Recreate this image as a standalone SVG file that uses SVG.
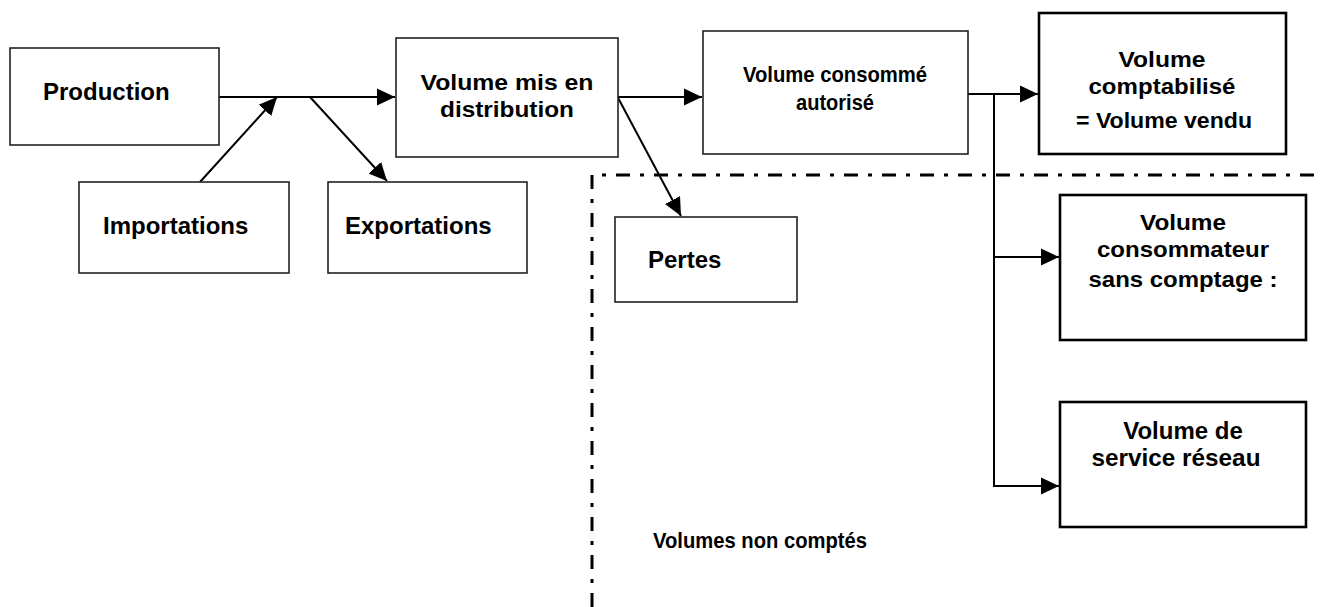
<svg xmlns="http://www.w3.org/2000/svg" width="1320" height="607" viewBox="0 0 1320 607">
<defs>
<style>
.box{fill:#fff;stroke:#222;stroke-width:1.6}
.boxb{fill:#fff;stroke:#000;stroke-width:2.6}
.t{font-family:"Liberation Sans",Arial,sans-serif;font-weight:bold;fill:#000}
.t24{font-size:24px}
.t21{font-size:22px}
.c{text-anchor:middle}
.ln{fill:none;stroke:#000;stroke-width:2}
.dd{fill:none;stroke:#000;stroke-width:3;stroke-dasharray:14 10 4 10}
</style>
<marker id="ah" markerUnits="userSpaceOnUse" markerWidth="19" markerHeight="18" refX="18" refY="9" orient="auto" viewBox="0 0 19 18">
<path d="M0,0.5 L18,9 L0,17.5 z" fill="#000"/>
</marker>
</defs>
<rect width="1320" height="607" fill="#fff"/>

<g id="boundary">
<path class="dd" d="M592,607 L592,175 L1320,175"/>
</g>

<g id="connectors">
<line class="ln" x1="219" y1="97" x2="395" y2="97" marker-end="url(#ah)"/>
<line class="ln" x1="200" y1="182" x2="277" y2="97" marker-end="url(#ah)"/>
<line class="ln" x1="310" y1="97" x2="387" y2="181" marker-end="url(#ah)"/>
<line class="ln" x1="618" y1="97" x2="702" y2="97" marker-end="url(#ah)"/>
<line class="ln" x1="616" y1="94" x2="681" y2="216" marker-end="url(#ah)"/>
<line class="ln" x1="968" y1="94" x2="1038" y2="94" marker-end="url(#ah)"/>
<path class="ln" d="M994,94 L994,486 L1059,486" marker-end="url(#ah)"/>
<line class="ln" x1="994" y1="257" x2="1059" y2="257" marker-end="url(#ah)"/>
</g>

<g id="production">
<rect class="box" x="10" y="48" width="209" height="97"/>
<text class="t t24" x="43" y="100">Production</text>
</g>

<g id="importations">
<rect class="box" x="79" y="182" width="210" height="91"/>
<text class="t t24" x="103" y="234">Importations</text>
</g>

<g id="exportations">
<rect class="box" x="328" y="182" width="199" height="91"/>
<text class="t t24" x="345" y="234">Exportations</text>
</g>

<g id="distribution">
<rect class="box" x="396" y="38" width="222" height="119"/>
<text class="t t21 c" x="507" y="90" textLength="173" lengthAdjust="spacingAndGlyphs">Volume mis en</text>
<text class="t t21 c" x="507" y="117" textLength="134" lengthAdjust="spacingAndGlyphs">distribution</text>
</g>

<g id="consomme">
<rect class="box" x="703" y="31" width="265" height="123"/>
<text class="t t21 c" x="835" y="82" textLength="184" lengthAdjust="spacingAndGlyphs">Volume consommé</text>
<text class="t t21 c" x="835" y="110" textLength="78" lengthAdjust="spacingAndGlyphs">autorisé</text>
</g>

<g id="comptabilise">
<rect class="boxb" x="1039" y="13" width="247" height="141"/>
<text class="t t21 c" x="1162" y="67" textLength="87" lengthAdjust="spacingAndGlyphs">Volume</text>
<text class="t t21 c" x="1162" y="94" textLength="147" lengthAdjust="spacingAndGlyphs">comptabilisé</text>
<text class="t t21 c" x="1164" y="128" textLength="176" lengthAdjust="spacingAndGlyphs">= Volume vendu</text>
</g>

<g id="pertes">
<rect class="box" x="615" y="217" width="182" height="85"/>
<text class="t t24" x="648" y="268">Pertes</text>
</g>

<g id="sans-comptage">
<rect class="boxb" x="1060" y="195" width="246" height="145"/>
<text class="t t21 c" x="1183" y="230" textLength="86" lengthAdjust="spacingAndGlyphs">Volume</text>
<text class="t t21 c" x="1183" y="257" textLength="172" lengthAdjust="spacingAndGlyphs">consommateur</text>
<text class="t t21 c" x="1183" y="287" textLength="189" lengthAdjust="spacingAndGlyphs">sans comptage :</text>
</g>

<g id="service-reseau">
<rect class="boxb" x="1060" y="402" width="246" height="125"/>
<text class="t t24 c" x="1183" y="439">Volume de</text>
<text class="t t24 c" x="1176" y="466" textLength="169" lengthAdjust="spacingAndGlyphs">service réseau</text>
</g>

<g id="volumes-non-comptes">
<text class="t" style="font-size:22px" x="653" y="548" textLength="214" lengthAdjust="spacingAndGlyphs">Volumes non comptés</text>
</g>
</svg>
